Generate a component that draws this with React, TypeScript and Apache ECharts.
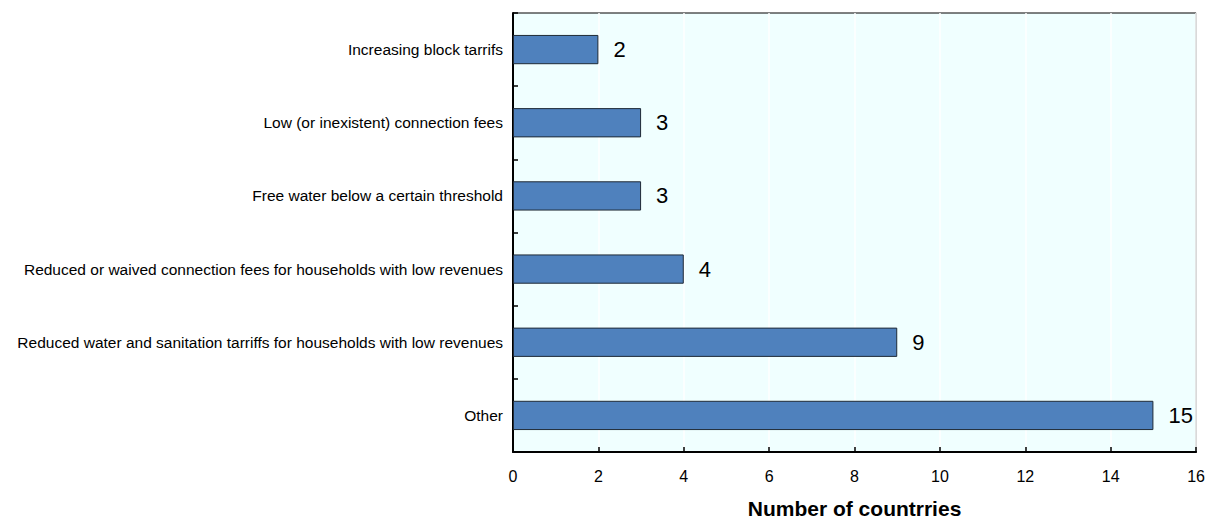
import React, { useEffect, useRef } from "react";
import * as echarts from "echarts";

const categories = [
  "Increasing block tarrifs",
  "Low (or inexistent) connection fees",
  "Free water below a certain threshold",
  "Reduced or waived connection fees for households with low revenues",
  "Reduced water and sanitation tarriffs for households with low revenues",
  "Other",
];
const countries = [2, 3, 3, 4, 9, 15];
const xTicks = { min: 0, max: 16, interval: 2 };
const xTitle = "Number of countrries";

const FONT = "'Liberation Sans Narrow', 'Arial Narrow', 'Liberation Sans', Arial, sans-serif";

export default function App() {
  const ref = useRef<HTMLDivElement>(null);
  useEffect(() => {
    const chart = echarts.init(ref.current!, undefined, { renderer: "svg" });
    chart.setOption({
      animation: false,
      grid: {
        left: 513,
        top: 13,
        right: 11,
        bottom: 68,
        show: true,
        backgroundColor: "#f0ffff",
        borderColor: "#000",
        borderWidth: 1,
      },
      xAxis: {
        type: "value",
        min: xTicks.min,
        max: xTicks.max,
        interval: xTicks.interval,
        name: xTitle,
        nameLocation: "middle",
        nameGap: 46,
        nameTextStyle: { fontFamily: FONT, fontSize: 21, fontWeight: "bold", color: "#000" },
        axisLine: { show: true, lineStyle: { color: "#000", width: 2 } },
        axisTick: { show: true, inside: true, length: 5, lineStyle: { color: "#000", width: 1.5 } },
        axisLabel: { fontFamily: FONT, fontSize: 16, color: "#000", margin: 16 },
        splitLine: { show: true, lineStyle: { color: "#ffffff", width: 1.5 } },
      },
      yAxis: {
        type: "category",
        data: categories,
        inverse: true,
        axisLine: { show: true, lineStyle: { color: "#000", width: 2 } },
        axisTick: { show: true, inside: true, length: 5, lineStyle: { color: "#000", width: 1.5 } },
        axisLabel: { fontFamily: FONT, fontSize: 15.5, color: "#000", margin: 10 },
        splitLine: { show: false },
      },
      series: [
        {
          type: "bar",
          data: countries,
          barWidth: "40%",
          itemStyle: { color: "#4f81bd", borderColor: "#1f2a36", borderWidth: 1 },
          label: {
            show: true,
            position: "right",
            distance: 15,
            fontFamily: FONT,
            fontSize: 22,
            color: "#000",
          },
        },
      ],
    });
    return () => chart.dispose();
  }, []);
  return (
    <div
      ref={ref}
      style={{ position: "fixed", left: 0, top: 0, width: 1208, height: 524, background: "#fff" }}
    />
  );
}
